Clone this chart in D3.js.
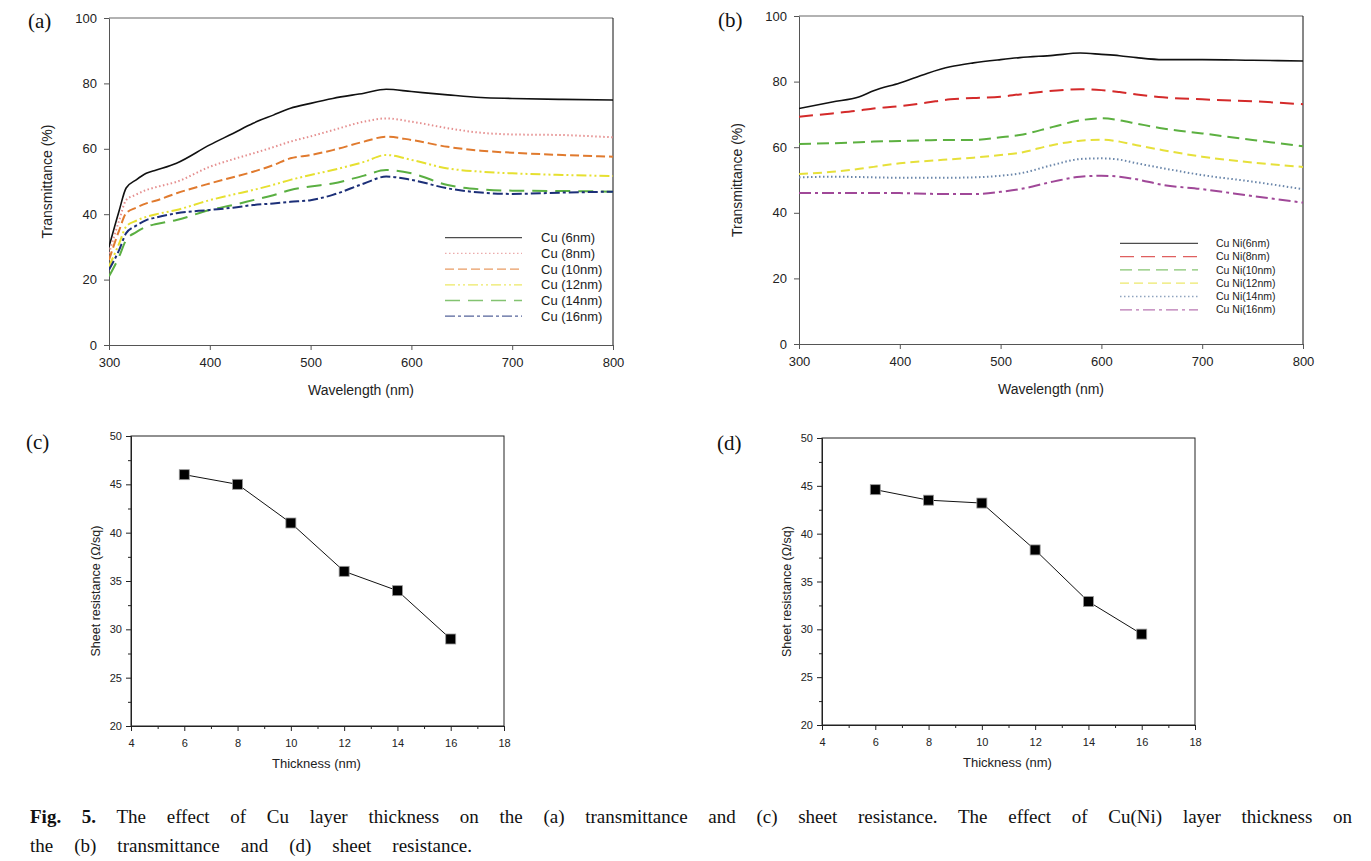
<!DOCTYPE html>
<html>
<head>
<meta charset="utf-8">
<script src="https://cdn.jsdelivr.net/npm/d3@7"></script>
<style>
  body { margin: 0; background: #fff; }
  text { font-family: "Liberation Sans", Arial, sans-serif; }
  .serif { font-family: "Liberation Serif", "Times New Roman", serif; }
</style>
</head>
<body>
<svg id="fig" width="1371" height="861"></svg>
<script>
// ---- data ----
const wavelengthsA = [300, 310, 317, 327, 337, 347, 367, 400, 423, 443, 463, 480, 500, 522, 553, 575, 600, 636, 669, 700, 750, 800];
const cu6  = [30, 41, 48, 50.5, 52.5, 53.5, 55.6, 61.2, 64.7, 67.8, 70.3, 72.4, 73.9, 75.4, 77.0, 78.2, 77.5, 76.5, 75.7, 75.4, 75.1, 74.9];
const cu8  = [28, 38, 44.3, 46, 47.4, 48.3, 49.9, 54.5, 56.8, 58.6, 60.5, 62.2, 63.8, 65.7, 68.3, 69.3, 68.3, 66.3, 64.9, 64.4, 64.2, 63.5];
const cu10 = [26, 35, 40.3, 42, 43.3, 44.2, 46.4, 49.4, 51.3, 53.0, 55.0, 57.1, 58.1, 59.6, 62.2, 63.7, 62.7, 60.6, 59.4, 58.8, 58.1, 57.6];
const cu12 = [24, 31, 36.2, 38, 39.2, 40.0, 41.3, 44.3, 46.0, 47.4, 49.0, 50.5, 52.0, 53.5, 56.0, 58.1, 56.6, 54.0, 53.0, 52.5, 52.0, 51.7];
const cu14 = [21, 27, 32.1, 34.5, 36.2, 37.0, 38.2, 41.3, 42.8, 44.3, 45.8, 47.4, 48.5, 49.4, 51.8, 53.5, 52.5, 48.9, 47.6, 47.2, 47.1, 46.9];
const cu16 = [23, 29, 34.2, 36.5, 38.2, 39.0, 40.3, 41.3, 42.0, 42.8, 43.3, 43.8, 44.3, 45.9, 49.4, 51.5, 50.5, 47.9, 46.6, 46.2, 46.6, 46.9];
const namesA = ["Cu (6nm)", "Cu (8nm)", "Cu (10nm)", "Cu (12nm)", "Cu (14nm)", "Cu (16nm)"];

const wavelengthsB = [300, 333, 360, 374, 400, 427, 450, 473, 500, 519, 552, 579, 600, 618, 635, 661, 700, 750, 800];
const cuni6  = [71.8, 73.8, 75.4, 77.2, 79.6, 82.5, 84.5, 85.7, 86.7, 87.3, 88.0, 88.7, 88.3, 87.9, 87.3, 86.7, 86.7, 86.5, 86.3];
const cuni8  = [69.3, 70.3, 71.2, 71.8, 72.5, 73.6, 74.6, 75.0, 75.4, 76.1, 77.2, 77.7, 77.4, 76.8, 76.1, 75.2, 74.6, 74.0, 73.1];
const cuni10 = [61.0, 61.2, 61.5, 61.7, 61.9, 62.1, 62.2, 62.2, 63.0, 63.7, 66.2, 68.2, 68.8, 68.2, 67.2, 65.7, 64.2, 62.2, 60.3];
const cuni12 = [51.8, 52.5, 53.4, 54.0, 55.1, 55.8, 56.3, 56.8, 57.6, 58.3, 60.7, 62.0, 62.3, 61.7, 60.6, 59.1, 57.1, 55.3, 54.0];
const cuni14 = [50.8, 51.0, 50.9, 50.8, 50.7, 50.7, 50.7, 50.8, 51.3, 52.0, 54.6, 56.4, 56.6, 56.2, 55.1, 53.6, 51.5, 49.5, 47.2];
const cuni16 = [46.0, 46.0, 46.0, 46.0, 46.0, 45.8, 45.7, 45.7, 46.4, 47.2, 49.5, 51.0, 51.3, 51.0, 50.2, 48.5, 47.2, 45.1, 43.1];
const namesB = ["Cu Ni(6nm)", "Cu Ni(8nm)", "Cu Ni(10nm)", "Cu Ni(12nm)", "Cu Ni(14nm)", "Cu Ni(16nm)"];

const thickness = [6, 8, 10, 12, 14, 16];
const resistanceCu = [46, 45, 41, 36, 34, 29];
const resistanceCuNi = [44.6, 43.5, 43.2, 38.3, 32.9, 29.5];

const waveTicks = [300, 400, 500, 600, 700, 800];
const transTicks = [0, 20, 40, 60, 80, 100];
const thickTicks = [4, 6, 8, 10, 12, 14, 16, 18];
const thickMinor = [5, 7, 9, 11, 13, 15, 17];
const resTicks = [20, 25, 30, 35, 40, 45, 50];
const resMinor = [22.5, 27.5, 32.5, 37.5, 42.5, 47.5];

// ---- styles ----
const stylesA = [
  { color: "#111111", dash: null },
  { color: "#e58f8f", dash: "1.5,2.5" },
  { color: "#e07a2e", dash: "9,4" },
  { color: "#e6e030", dash: "10,3,2,3,2,3" },
  { color: "#5aaf42", dash: "15,8" },
  { color: "#1c2f78", dash: "10,3,3,3" }
];
const stylesB = [
  { color: "#111111", dash: null },
  { color: "#d42a2a", dash: "14,7" },
  { color: "#5cb040", dash: "12,6" },
  { color: "#e6e03a", dash: "9,5" },
  { color: "#6a86aa", dash: "1.5,2.5" },
  { color: "#a04898", dash: "12,4,3,4" }
];

const svg = d3.select("#fig");
svg.append("rect").attr("width", 1371).attr("height", 861).attr("fill", "#fff");

function styleAxis(g, size, color) {
  g.select(".domain").attr("stroke", color);
  g.selectAll(".tick line").attr("stroke", color);
  g.selectAll(".tick text").attr("font-size", size).attr("fill", "#222")
    .attr("font-family", "'Liberation Sans', Arial, sans-serif");
}

function drawSpectrum(p) {
  const x = d3.scaleLinear().domain([300, 800]).range([p.x0, p.x1]);
  const y = d3.scaleLinear().domain([0, 100]).range([p.y0, p.y1]);
  const g = svg.append("g");

  g.append("line").attr("x1", p.x0).attr("x2", p.x1).attr("y1", p.y1).attr("y2", p.y1)
    .attr("stroke", "#666").attr("stroke-width", 1.2);
  g.append("line").attr("x1", p.x1).attr("x2", p.x1).attr("y1", p.y1).attr("y2", p.y0)
    .attr("stroke", "#111").attr("stroke-width", 1);

  g.append("g").attr("transform", `translate(0,${p.y0})`)
    .call(d3.axisBottom(x).tickValues(waveTicks).tickSize(5).tickPadding(8).tickSizeOuter(0))
    .call(a => styleAxis(a, 13, "#555"));
  g.append("g").attr("transform", `translate(${p.x0},0)`)
    .call(d3.axisLeft(y).tickValues(transTicks).tickSize(5).tickPadding(7).tickSizeOuter(0))
    .call(a => styleAxis(a, 13, "#555"));

  const clipId = "clip" + p.id;
  svg.append("clipPath").attr("id", clipId).append("rect")
    .attr("x", p.x0).attr("y", p.y1).attr("width", p.x1 - p.x0).attr("height", p.y0 - p.y1);

  const line = d3.line().x(d => x(d[0])).y(d => y(d[1])).curve(d3.curveMonotoneX);
  p.series.forEach((s, i) => {
    g.append("path")
      .datum(p.wl.map((w, k) => [w, s[k]]))
      .attr("clip-path", `url(#${clipId})`)
      .attr("d", line)
      .attr("fill", "none")
      .attr("stroke", p.styles[i].color)
      .attr("stroke-width", i === 0 ? 1.6 : 2)
      .attr("stroke-dasharray", p.styles[i].dash);
  });

  // legend
  p.names.forEach((n, i) => {
    const yy = p.legY + i * p.legStep;
    g.append("line").attr("x1", p.legX0).attr("x2", p.legX1).attr("y1", yy).attr("y2", yy)
      .attr("stroke", p.styles[i].color).attr("stroke-opacity", 0.75)
      .attr("stroke-width", 1.3).attr("stroke-dasharray", p.styles[i].dash);
    g.append("text").attr("x", p.legText).attr("y", yy).attr("dy", "0.35em")
      .attr("font-size", p.legFont).attr("fill", "#222").text(n);
  });

  g.append("text").attr("x", (p.x0 + p.x1) / 2).attr("y", p.y0 + 50)
    .attr("text-anchor", "middle").attr("font-size", 14).attr("fill", "#222").text("Wavelength (nm)");
  g.append("text").attr("transform", `translate(${p.x0 - 57},${(p.y0 + p.y1) / 2}) rotate(-90)`)
    .attr("text-anchor", "middle").attr("font-size", 14).attr("fill", "#222").text("Transmittance (%)");

  g.append("text").attr("class", "serif").attr("x", p.labX).attr("y", p.labY)
    .attr("font-size", 21).attr("fill", "#111").text(p.label);
}

function drawResistance(p) {
  const x = d3.scaleLinear().domain([4, 18]).range([p.x0, p.x1]);
  const y = d3.scaleLinear().domain([20, 50]).range([p.y0, p.y1]);
  const g = svg.append("g");

  g.append("rect").attr("x", p.x0).attr("y", p.y1).attr("width", p.x1 - p.x0).attr("height", p.y0 - p.y1)
    .attr("fill", "none").attr("stroke", "#222").attr("stroke-width", 1);

  g.append("g").attr("transform", `translate(0,${p.y0})`)
    .call(d3.axisBottom(x).tickValues(thickMinor).tickSize(3).tickFormat("").tickSizeOuter(0))
    .call(a => styleAxis(a, 11, "#222"));
  g.append("g").attr("transform", `translate(0,${p.y0})`)
    .call(d3.axisBottom(x).tickValues(thickTicks).tickSize(5).tickPadding(8).tickSizeOuter(0))
    .call(a => styleAxis(a, 11, "#222"));
  g.append("g").attr("transform", `translate(${p.x0},0)`)
    .call(d3.axisLeft(y).tickValues(resMinor).tickSize(3).tickFormat("").tickSizeOuter(0))
    .call(a => styleAxis(a, 11, "#222"));
  g.append("g").attr("transform", `translate(${p.x0},0)`)
    .call(d3.axisLeft(y).tickValues(resTicks).tickSize(5).tickPadding(4).tickSizeOuter(0))
    .call(a => styleAxis(a, 11, "#222"));

  const pts = thickness.map((t, i) => [t, p.values[i]]);
  g.append("path").datum(pts)
    .attr("d", d3.line().x(d => x(d[0])).y(d => y(d[1])))
    .attr("fill", "none").attr("stroke", "#111").attr("stroke-width", 1);
  g.selectAll(".pt").data(pts).enter().append("rect")
    .attr("x", d => x(d[0]) - 5).attr("y", d => y(d[1]) - 5)
    .attr("width", 10).attr("height", 10)
    .attr("fill", "#000").attr("stroke", "#999").attr("stroke-width", 0.8);

  g.append("text").attr("x", (p.x0 + p.x1) / 2 - 1).attr("y", p.y0 + 42)
    .attr("text-anchor", "middle").attr("font-size", 13).attr("fill", "#222").text("Thickness (nm)");
  g.append("text").attr("transform", `translate(${p.x0 - 31},${(p.y0 + p.y1) / 2 + 10}) rotate(-90)`)
    .attr("text-anchor", "middle").attr("font-size", 12.5).attr("fill", "#222").text("Sheet resistance (\u03A9/sq)");

  g.append("text").attr("class", "serif").attr("x", p.labX).attr("y", p.labY)
    .attr("font-size", 21).attr("fill", "#111").text(p.label);
}

drawSpectrum({
  id: "a", x0: 109, x1: 613, y0: 345, y1: 18, wl: wavelengthsA,
  series: [cu6, cu8, cu10, cu12, cu14, cu16], names: namesA, styles: stylesA,
  legX0: 445, legX1: 522, legText: 541, legY: 237.7, legStep: 15.7, legFont: 13,
  label: "(a)", labX: 28, labY: 28
});
drawSpectrum({
  id: "b", x0: 799, x1: 1303, y0: 344, y1: 16, wl: wavelengthsB,
  series: [cuni6, cuni8, cuni10, cuni12, cuni14, cuni16], names: namesB, styles: stylesB,
  legX0: 1120, legX1: 1198, legText: 1216, legY: 243.3, legStep: 13.3, legFont: 10.5,
  label: "(b)", labX: 718, labY: 27
});
drawResistance({ x0: 131, x1: 504, y0: 726, y1: 436, values: resistanceCu, label: "(c)", labX: 26, labY: 449 });
drawResistance({ x0: 822, x1: 1195, y0: 725, y1: 438, values: resistanceCuNi, label: "(d)", labX: 717, labY: 450 });

// ---- caption, justified like the printed figure ----
function captionLine(y, width, parts) {
  const t = svg.append("text").attr("class", "serif").attr("x", 30).attr("y", y)
    .attr("font-size", 19).attr("fill", "#111");
  parts.forEach(pt => t.append("tspan").attr("font-weight", pt.bold ? "bold" : "normal").text(pt.text));
  const natural = t.node().getComputedTextLength();
  const gaps = t.text().split(" ").length - 1;
  t.style("word-spacing", ((width - natural) / gaps) + "px");
}
captionLine(823, 1322, [
  { text: "Fig. 5.", bold: true },
  { text: " The effect of Cu layer thickness on the (a) transmittance and (c) sheet resistance. The effect of Cu(Ni) layer thickness on" }
]);
captionLine(852, 442, [{ text: "the (b) transmittance and (d) sheet resistance." }]);
</script>
</body>
</html>
